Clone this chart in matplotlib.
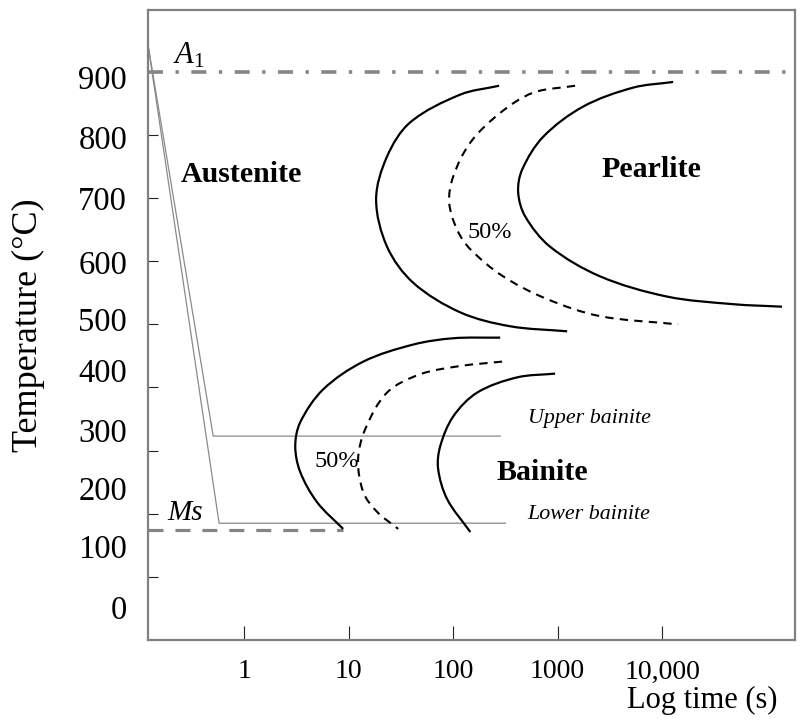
import numpy as np
import matplotlib
matplotlib.use('Agg')
import matplotlib.pyplot as plt
from matplotlib.path import Path
from matplotlib.patches import PathPatch
from matplotlib.ticker import FixedLocator, NullLocator, FixedFormatter, NullFormatter

plt.rcParams['font.family'] = ['Liberation Serif', 'DejaVu Serif']
plt.rcParams['mathtext.fontset'] = 'custom'
plt.rcParams['mathtext.rm'] = 'Liberation Serif'
plt.rcParams['mathtext.it'] = 'Liberation Serif:italic'
plt.rcParams['lines.scale_dashes'] = False

# ---------------- data ----------------
x_ticks = [1, 10, 100, 1000, 10000]
x_tick_labels = ['1', '10', '100', '1000', '10,000']
y_tick_marks = [100, 200, 300, 400, 500, 600, 700, 800, 900]
y_tick_labels = ['0', '100', '200', '300', '400', '500', '600', '700', '800', '900']
y_tick_label_pos = [52, 149, 241, 332, 427, 508, 599, 699, 797, 892]

A1_temp = 900
Ms_temp = 174
Ms_end_time = 8.85

cool1_t = [0.12, 0.505, 282]
cool1_T = [943, 323, 323]
cool2_t = [0.12, 0.575, 316]
cool2_T = [943, 185, 185]

pearlite_start_t = [275, 117, 38.8, 23.3, 18.3, 23.3, 41.4, 117, 351, 1233]
pearlite_start_T = [878, 864, 820, 766, 698, 623, 566, 519, 497, 489]

pearlite_50_t = [1469, 583, 282, 146, 100, 91.6, 109, 146, 301, 794, 2553, 14220]
pearlite_50_T = [878, 867, 835, 788, 734, 693, 650, 619, 576, 540, 513, 500]

pearlite_finish_t = [12735, 5272, 1754, 726, 457, 419, 489, 847, 2553, 11169, 47750, 140600]
pearlite_finish_T = [884, 875, 845, 797, 745, 709, 671, 623, 576, 544, 532, 528]

bainite_start_t = [282, 100, 41.4, 13.8, 5.70, 3.44, 3.08, 3.44, 5.0, 8.85]
bainite_start_T = [479, 478, 468, 441, 397, 345, 307, 266, 218, 176]

bainite_50_t = [294, 117, 48.3, 23.3, 14.4, 12.3, 13.8, 18.7, 29.8]
bainite_50_T = [441, 434, 421, 392, 334, 286, 234, 203, 176]

bainite_finish_t = [946, 409, 170, 100, 75.2, 71.8, 87.7, 146]
bainite_finish_T = [422, 416, 392, 354, 307, 271, 223, 171]

# approximate display scale (pixels per decade, pixels per degree) for smoothing
PX_DECADE = 104.5
PX_DEGREE = 0.632


def smooth_path(t, T):
    """Bezier path through the read points (chordal Catmull-Rom handles)."""
    x = np.log10(np.asarray(t, float))
    y = np.asarray(T, float)
    P = np.column_stack([x * PX_DECADE, y * PX_DEGREE])
    n = len(P)
    d = np.hypot(*np.diff(P, axis=0).T)
    m = np.zeros_like(P)
    m[0] = (P[1] - P[0]) / d[0]
    m[-1] = (P[-1] - P[-2]) / d[-1]
    for i in range(1, n - 1):
        m[i] = (P[i + 1] - P[i - 1]) / (d[i - 1] + d[i])
    verts = [P[0]]
    codes = [Path.MOVETO]
    for i in range(n - 1):
        verts += [P[i] + m[i] * d[i] / 3, P[i + 1] - m[i + 1] * d[i] / 3, P[i + 1]]
        codes += [Path.CURVE4] * 3
    V = np.array(verts)
    V[:, 0] = 10 ** (V[:, 0] / PX_DECADE)
    V[:, 1] = V[:, 1] / PX_DEGREE
    return Path(V, codes)


fig = plt.figure(figsize=(8.03, 7.22), dpi=100)
ax = fig.add_axes([148 / 803, 82 / 722, 647 / 803, 630 / 722])
ax.set_xscale('log')
ax.set_xlim(0.12, 1.87e5)
ax.set_ylim(0, 998)

gray = '#858585'
# A1 and Ms lines
ax.plot([0.12, 1.87e5], [A1_temp, A1_temp], color=gray, lw=2.6,
        dashes=(10.8, 9.0, 2.4, 9.0), solid_capstyle='butt', zorder=2)
ax.plot([0.12, Ms_end_time], [Ms_temp, Ms_temp], color=gray, lw=2.3,
        dashes=(10.8, 8.6), zorder=2)

# cooling paths
ax.plot(cool1_t, cool1_T, color='#8a8a8a', lw=0.9, zorder=2)
ax.plot(cool2_t, cool2_T, color='#8a8a8a', lw=0.9, zorder=2)

# C-curves
solid_curves = [(pearlite_start_t, pearlite_start_T), (pearlite_finish_t, pearlite_finish_T),
                (bainite_start_t, bainite_start_T), (bainite_finish_t, bainite_finish_T)]
dashed_curves = [(pearlite_50_t, pearlite_50_T), (bainite_50_t, bainite_50_T)]
for t, T in solid_curves:
    ax.add_patch(PathPatch(smooth_path(t, T), fill=False, edgecolor='black', lw=1.6,
                           capstyle='butt', zorder=3))
for t, T in dashed_curves:
    ax.add_patch(PathPatch(smooth_path(t, T), fill=False, edgecolor='black', lw=1.5,
                           linestyle=(0, (6.0, 4.5)), capstyle='butt', zorder=3))

# labels
ax.text(0.209, 914, r'$A_{\mathit{1}}$', fontsize=22, ha='left', va='baseline')
ax.text(0.183, 190, 'Ms', fontsize=21, style='italic', ha='left', va='baseline')
ax.text(0.936, 737, 'Austenite', fontsize=21.5, fontweight='bold', ha='center', va='center')
ax.text(7850, 745, 'Pearlite', fontsize=21.5, fontweight='bold', ha='center', va='center')
ax.text(226, 646, '50%', fontsize=17.5, ha='center', va='center')
ax.text(7.76, 283, '50%', fontsize=17.5, ha='center', va='center')
ax.text(711, 266, 'Bainite', fontsize=21.5, fontweight='bold', ha='center', va='center')
ax.text(2000, 351, 'Upper bainite', fontsize=15.8, style='italic', ha='center', va='center')
ax.text(2000, 199, 'Lower bainite', fontsize=15.8, style='italic', ha='center', va='center')

# axes styling
for s in ax.spines.values():
    s.set_color('#808080')
    s.set_linewidth(1.6)

ax.xaxis.set_major_locator(FixedLocator(x_ticks))
ax.xaxis.set_major_formatter(FixedFormatter(x_tick_labels))
ax.xaxis.set_minor_locator(NullLocator())
ax.tick_params(axis='x', which='major', direction='in', length=10, width=0.8,
               color='#222222', labelsize=20, pad=14)

ax.yaxis.set_major_locator(FixedLocator(y_tick_label_pos))
ax.yaxis.set_major_formatter(FixedFormatter(y_tick_labels))
ax.yaxis.set_minor_locator(FixedLocator(y_tick_marks))
ax.yaxis.set_minor_formatter(NullFormatter())
ax.tick_params(axis='y', which='major', length=0, labelsize=23.5, pad=15)
ax.tick_params(axis='y', which='minor', direction='in', length=7.5, width=0.8,
               color='#222222')

ax.set_xlabel('Log time (s)', fontsize=22)
ax.xaxis.set_label_coords((778 - 148) / 647, -(700 - 640) / 630)
ax.xaxis.label.set_ha('right')
ax.xaxis.label.set_va('center')

ax.set_ylabel('Temperature (°C)', fontsize=26)
ax.yaxis.set_label_coords(-(148 - 28) / 647, (640 - 325) / 630)
ax.yaxis.label.set_va('center')

fig.savefig('out.png', dpi=100)
